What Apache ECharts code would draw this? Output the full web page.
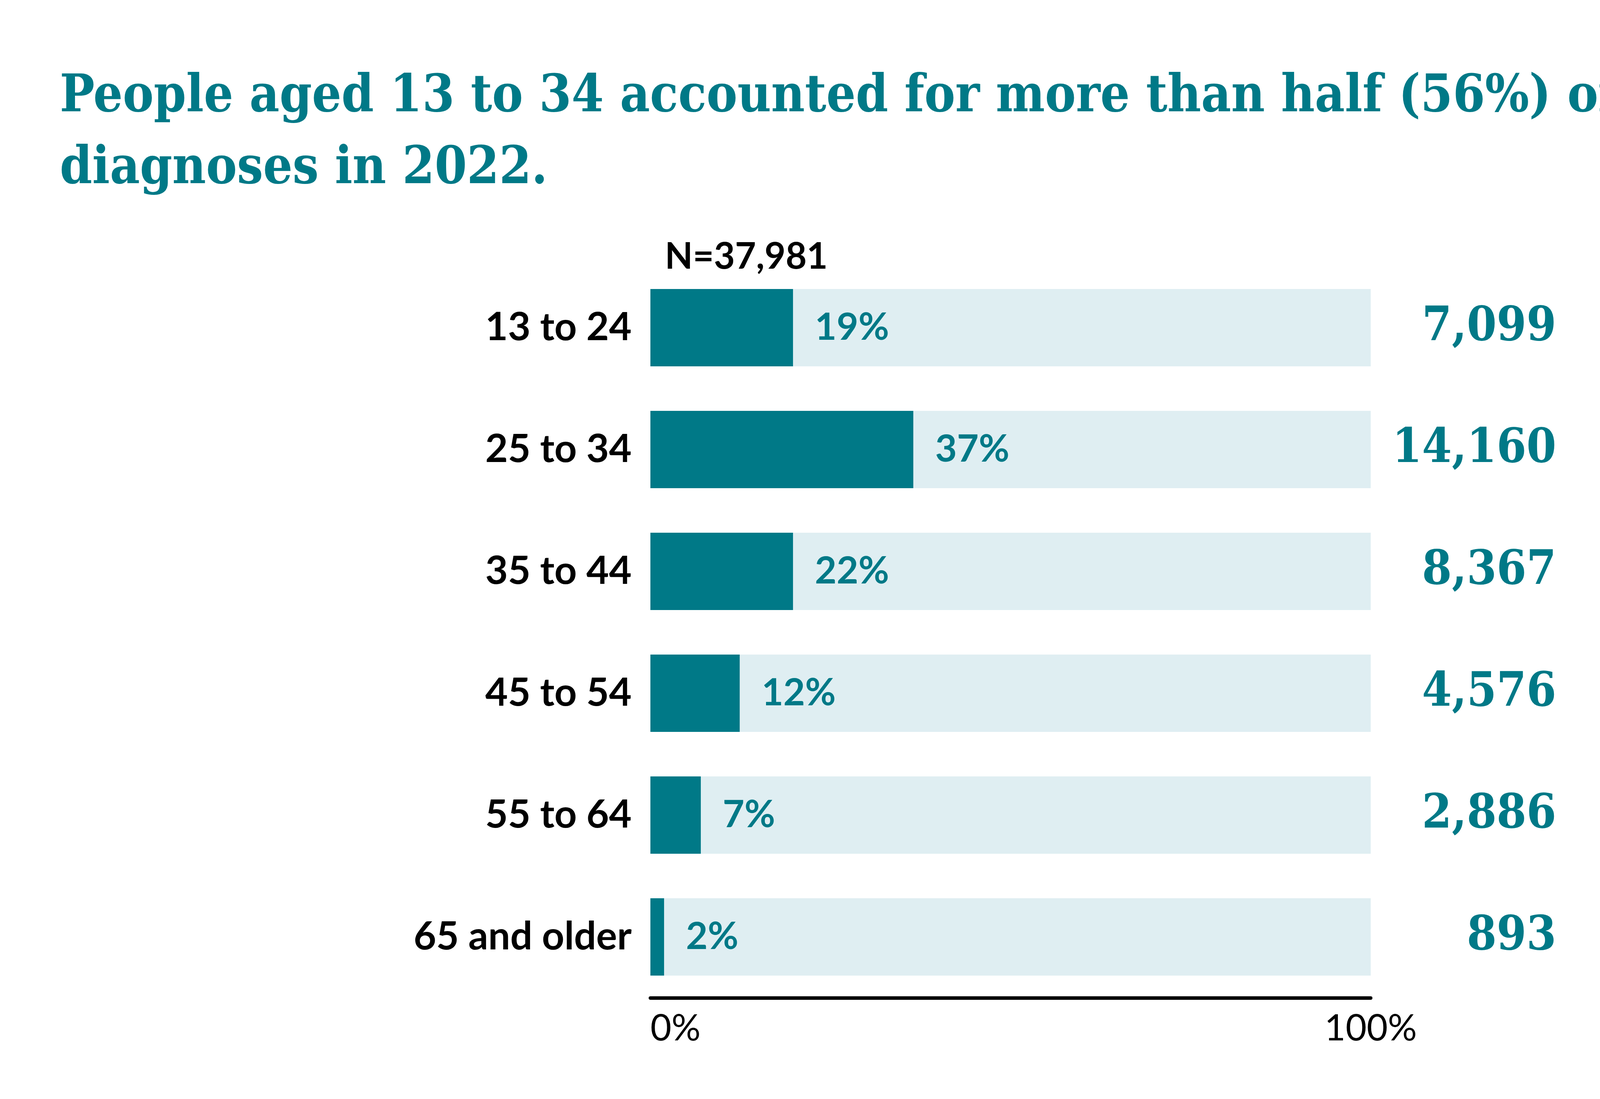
<!DOCTYPE html>
<html>
<head>
<meta charset="utf-8">
<title>HIV diagnoses by age, 2022</title>
<script src="https://cdn.jsdelivr.net/npm/echarts@6/dist/echarts.min.js"></script>
<style>
	html, body { margin: 0; padding: 0; background: #fff; }
	#main { width: 5001px; height: 2814px; }
</style>
</head>
<body>
<div id="main"></div>
<script>
// age groups, top to bottom
var ageGroups = ['13 to 24', '25 to 34', '35 to 44', '45 to 54', '55 to 64', '65 and older'];
// bar length as drawn in the original (share of 0-100% axis)
var barShare = [19.8, 36.5, 19.8, 12.4, 7.0, 1.9];
// printed percent labels
var pctLabels = ['19%', '37%', '22%', '12%', '7%', '2%'];
// diagnoses count per age group
var diagCounts = ['7,099', '14,160', '8,367', '4,576', '2,886', '893'];
var totalLabel = 'N=37,981';
var axisTicks = [0, 100];

var teal = '#007987';
var lightTeal = '#DFEEF2';

window.onload = function () {
	initEcharts();
};

function initEcharts() {
	var chart = echarts.init(document.getElementById('main'));
	var option = {
		backgroundColor: '#fff',
		animation: false,
		title: [{
			text: 'People aged 13 to 34 accounted for more than half (56%) of HIV\ndiagnoses in 2022.',
			left: 148,
			top: 154,
			textStyle: {
				color: teal,
				fontFamily: 'DejaVu Serif Condensed',
				fontWeight: 'bold',
				fontSize: 132,
				lineHeight: 184
			}
		}, {
			text: totalLabel,
			left: 1697,
			top: 606,
			textStyle: {
				color: '#000',
				fontFamily: 'Lato',
				fontWeight: 'bold',
				fontSize: 93
			}
		}],
		grid: {
			left: 1665,
			right: 5001 - 3509,
			top: 683,
			bottom: 2814 - 2555,
			containLabel: false
		},
		xAxis: {
			type: 'value',
			min: axisTicks[0],
			max: axisTicks[1],
			interval: 100,
			splitLine: { show: false },
			axisTick: { show: false },
			axisLine: {
				show: true,
				lineStyle: { color: '#000', width: 9 }
			},
			axisLabel: {
				margin: 32,
				color: '#000',
				fontFamily: 'Lato',
				fontSize: 93,
				formatter: '{value}%',
				alignMinLabel: 'left',
				alignMaxLabel: 'center'
			}
		},
		yAxis: [{
			type: 'category',
			data: ageGroups,
			inverse: true,
			axisLine: { show: false },
			axisTick: { show: false },
			axisLabel: {
				margin: 48,
				color: '#000',
				fontFamily: 'Lato',
				fontWeight: 'bold',
				fontSize: 100
			}
		}, {
			type: 'category',
			data: diagCounts,
			inverse: true,
			position: 'right',
			axisLine: { show: false },
			axisTick: { show: false },
			axisLabel: {
				margin: 475,
				align: 'right',
				color: teal,
				fontFamily: 'DejaVu Serif Condensed',
				fontWeight: 'bold',
				fontSize: 122
			}
		}],
		series: [{
			type: 'bar',
			data: barShare,
			barWidth: 198,
			itemStyle: { color: teal },
			showBackground: true,
			backgroundStyle: { color: lightTeal },
			label: {
				show: true,
				position: 'right',
				distance: 56,
				color: teal,
				fontFamily: 'Lato',
				fontWeight: 'bold',
				fontSize: 96,
				formatter: function (params) {
					return pctLabels[params.dataIndex];
				}
			}
		}]
	};
	chart.setOption(option, true);
}
</script>
</body>
</html>
